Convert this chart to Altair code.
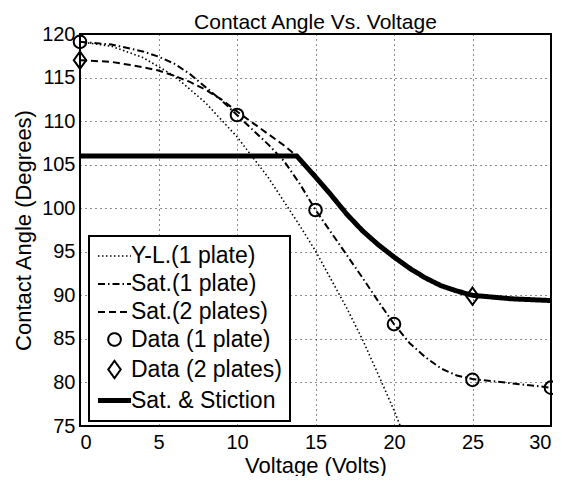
import altair as alt
import pandas as pd

series_names = ["Y-L.(1 plate)", "Sat.(1 plate)", "Sat.(2 plates)",
                "Data (1 plate)", "Data (2 plates)", "Sat. & Stiction"]

# Young-Lippmann (1 plate), dotted
yl_v = [0, 2, 4, 6, 8, 10, 12, 14, 15, 16, 17, 18, 19, 20, 20.4]
yl_a = [119.1, 118.6, 117.3, 115.2, 112.1, 108.2, 103.5, 98.0, 95.1, 91.8, 88.5, 84.9, 80.9, 76.8, 75.0]

# Saturation (1 plate), dash-dot
sat1_v = [0, 2, 4, 5, 6, 7, 8, 9, 10, 11, 12, 13, 14, 15, 16, 17, 18, 19, 20, 21, 22, 23, 24, 25, 27.5, 30]
sat1_a = [119.1, 118.8, 118.0, 117.4, 116.6, 115.4, 113.9, 112.4, 110.7, 109.0, 107.3, 105.4, 102.8, 99.8,
          97.2, 94.6, 92.0, 89.3, 86.7, 84.5, 82.9, 81.6, 80.8, 80.4, 79.9, 79.4]

# Saturation (2 plates), dashed
sat2_v = [0, 2, 4, 5, 6, 7, 8, 9, 10, 11, 12, 13, 13.8, 15, 16, 17, 18, 19, 20, 21, 22, 23, 24, 25, 27.5, 30]
sat2_a = [117.0, 116.8, 116.2, 115.8, 115.2, 114.5, 113.6, 112.5, 111.1, 109.8, 108.5, 107.2, 106.0, 103.6,
          101.5, 99.3, 97.4, 95.8, 94.4, 93.1, 92.0, 91.1, 90.5, 90.0, 89.6, 89.4]

# Saturation & stiction, thick solid
stic_v = [0, 13.8, 15, 16, 17, 18, 19, 20, 21, 22, 23, 24, 25, 27.5, 30]
stic_a = [106.0, 106.0, 103.6, 101.5, 99.3, 97.4, 95.8, 94.4, 93.1, 92.0, 91.1, 90.5, 90.0, 89.6, 89.4]

# Measured data
d1_v = [0, 10, 15, 20, 25, 30]
d1_a = [119.1, 110.7, 99.8, 86.7, 80.3, 79.4]
d2_v = [0, 25]
d2_a = [117.0, 89.9]

x_ticks = [0, 5, 10, 15, 20, 25, 30]
y_ticks = [75, 80, 85, 90, 95, 100, 105, 110, 115, 120]


def frame(v, a, name):
    return pd.DataFrame({"v": v, "a": a, "series": name})


thin_df = pd.concat([frame(yl_v, yl_a, series_names[0]),
                     frame(sat1_v, sat1_a, series_names[1]),
                     frame(sat2_v, sat2_a, series_names[2])], ignore_index=True)
thick_df = frame(stic_v, stic_a, series_names[5])
pts_df = pd.concat([frame(d1_v, d1_a, series_names[3]),
                    frame(d2_v, d2_a, series_names[4])], ignore_index=True)

FONT = "Liberation Sans"
LINE_SYM = "M-1.5,0L1.5,0"
DIAMOND = "M0,-1L0.72,0L0,1L-0.72,0Z"

dash_scale = alt.Scale(domain=series_names,
                       range=[[1.5, 2.5], [7, 3, 1.5, 3], [7, 4], [1, 0], [1, 0], [1, 0]])
width_scale = alt.Scale(domain=series_names, type="ordinal",
                        range=[1.6, 2, 2, 2, 2, 5])
shape_scale = alt.Scale(domain=series_names,
                        range=[LINE_SYM, LINE_SYM, LINE_SYM, "circle", DIAMOND, LINE_SYM])
size_scale = alt.Scale(domain=series_names, type="ordinal",
                       range=[484, 484, 484, 160, 300, 484])

x_enc = alt.X("v:Q", scale=alt.Scale(domain=[0, 30], nice=False),
              axis=alt.Axis(values=x_ticks, title="Voltage (Volts)"))
y_enc = alt.Y("a:Q", scale=alt.Scale(domain=[75, 120], nice=False, zero=False),
              axis=alt.Axis(values=y_ticks, title="Contact Angle (Degrees)"))

leg = alt.Legend(title=None)

thin = alt.Chart(thin_df).mark_line(color="black").encode(
    x=x_enc, y=y_enc,
    strokeDash=alt.StrokeDash("series:N", scale=dash_scale, legend=leg),
    strokeWidth=alt.StrokeWidth("series:N", scale=width_scale, legend=leg),
)
thick = alt.Chart(thick_df).mark_line(color="black").encode(
    x=x_enc, y=y_enc,
    strokeDash=alt.StrokeDash("series:N", scale=dash_scale, legend=leg),
    strokeWidth=alt.StrokeWidth("series:N", scale=width_scale, legend=leg),
)
pts = alt.Chart(pts_df).mark_point(filled=False, color="black", strokeWidth=2, opacity=1).encode(
    x=x_enc, y=y_enc,
    shape=alt.Shape("series:N", scale=shape_scale, legend=leg),
    size=alt.Size("series:N", scale=size_scale, legend=leg),
)

chart = alt.layer(thin, thick, pts).properties(
    width=471, height=392,
    title=alt.TitleParams("Contact Angle Vs. Voltage", font=FONT, fontSize=21,
                          fontWeight="normal", color="black", offset=-9),
    padding={"left": 72, "top": 26, "right": 2, "bottom": 50},
    autosize=alt.AutoSizeParams(type="none"),
).configure_view(
    stroke="black", strokeWidth=2
).configure_axis(
    domain=False, ticks=False, tickSize=0,
    grid=True, gridColor="black", gridDash=[1, 4], gridWidth=1, gridOpacity=0.9,
    labelFont=FONT, labelFontSize=20, labelColor="black",
    titleFont=FONT, titleFontSize=22, titleFontWeight="normal", titleColor="black",
).configure_axisX(
    labelPadding=6, titlePadding=3,
).configure_axisY(
    labelPadding=5, titlePadding=6,
).configure_legend(
    orient="none", legendX=9, legendY=202,
    padding=8, strokeColor="black", fillColor="white", strokeWidth=2,
    labelFont=FONT, labelFontSize=23, labelColor="black", labelOffset=3,
    rowPadding=4, symbolStrokeColor="black", symbolFillColor="transparent",
    symbolOffset=4,
)

chart.save("out.html", embed_options={"renderer": "svg", "actions": False})
